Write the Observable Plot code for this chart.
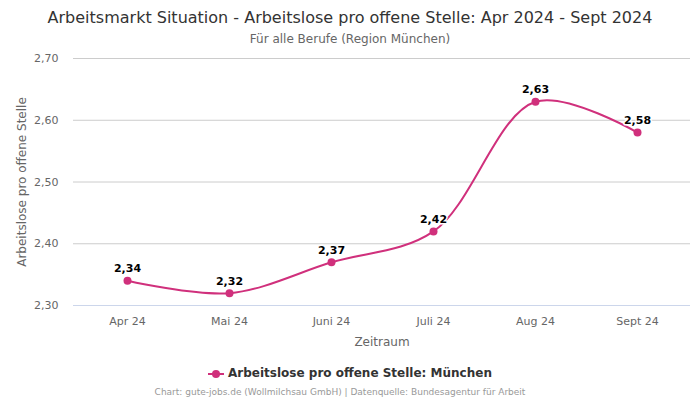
<!DOCTYPE html>
<html>
<head>
<meta charset="utf-8">
<script src="https://cdn.jsdelivr.net/npm/d3@7"></script>
<script src="https://cdn.jsdelivr.net/npm/@observablehq/plot@0.6"></script>
<style>
  body { margin: 0; width: 700px; height: 400px; background: #fff; font-family: "DejaVu Sans", sans-serif; overflow: hidden; }
  #title { position: absolute; top: 8px; left: 0; width: 700px; text-align: center; font-size: 16px; color: #333; }
  #subtitle { position: absolute; top: 32px; left: 0; width: 700px; text-align: center; font-size: 12px; color: #666; }
  #chart { position: absolute; top: 50px; left: 0; }
  #legend { position: absolute; top: 365px; left: 0; width: 700px; text-align: center; font-size: 12px; font-weight: bold; color: #333; line-height: 16px; }
  #legend svg { vertical-align: middle; margin-right: 4px; }
  #caption { position: absolute; top: 387px; left: 0; width: 680px; text-align: center; font-size: 9px; color: #999; }
</style>
</head>
<body>
<div id="title">Arbeitsmarkt Situation - Arbeitslose pro offene Stelle: Apr 2024 - Sept 2024</div>
<div id="subtitle">Für alle Berufe (Region München)</div>
<div id="chart"></div>
<div id="legend"></div>
<div id="caption">Chart: gute-jobs.de (Wollmilchsau GmbH) | Datenquelle: Bundesagentur für Arbeit</div>
<script>
const months = ["Apr 24", "Mai 24", "Juni 24", "Juli 24", "Aug 24", "Sept 24"];
const values = [2.34, 2.32, 2.37, 2.42, 2.63, 2.58];
const yTicks = [2.30, 2.40, 2.50, 2.60, 2.70];
const seriesName = "Arbeitslose pro offene Stelle: München";
const color = "#d0307c";

const de = d3.formatLocale({decimal: ",", thousands: ".", grouping: [3], currency: ["", " €"]});
const fmt = de.format(".2f");
const data = months.map((m, i) => ({month: m, value: values[i]}));

const plot = Plot.plot({
  width: 700,
  height: 300,
  marginTop: 8,
  marginBottom: 45,
  marginLeft: 73,
  marginRight: 10,
  style: {fontFamily: "DejaVu Sans, sans-serif", fontSize: "11px", color: "#666", background: "transparent"},
  x: {type: "point", domain: months, padding: 0.5, label: null},
  y: {domain: [2.30, 2.70], ticks: yTicks, label: null},
  marks: [
    Plot.gridY(yTicks.slice(1), {stroke: "#cccccc", strokeOpacity: 1}),
    Plot.ruleY([2.30], {stroke: "#ccd6eb"}),
    Plot.axisY({ticks: yTicks, tickFormat: fmt, tickSize: 0, tickPadding: 15, fill: "#666", fontSize: 11, label: null}),
    Plot.axisX({tickSize: 0, tickPadding: 12, fill: "#666", fontSize: 11, label: null}),
    Plot.text(["Arbeitslose pro offene Stelle"], {frameAnchor: "left", textAnchor: "middle", dx: -51, rotate: -90, fill: "#666", fontSize: 12, lineWidth: 100}),
    Plot.text(["Zeitraum"], {frameAnchor: "bottom", dy: 40, fill: "#666", fontSize: 12}),
    Plot.line(data, {x: "month", y: "value", stroke: color, strokeWidth: 2, curve: "catmull-rom"}),
    Plot.dot(data, {x: "month", y: "value", fill: color, r: 4}),
    Plot.text(data, {x: "month", y: "value", text: d => fmt(d.value), dy: -12, fill: "#000", fontWeight: "bold", fontSize: 11, stroke: "#fff", strokeWidth: 3, paintOrder: "stroke"})
  ]
});
document.getElementById("chart").appendChild(plot);

const leg = document.getElementById("legend");
leg.innerHTML = `<svg width="16" height="12"><line x1="0" y1="6" x2="16" y2="6" stroke="${color}" stroke-width="2"/><circle cx="8" cy="6" r="4" fill="${color}"/></svg>` ;
leg.appendChild(document.createTextNode(seriesName));
</script>
</body>
</html>
